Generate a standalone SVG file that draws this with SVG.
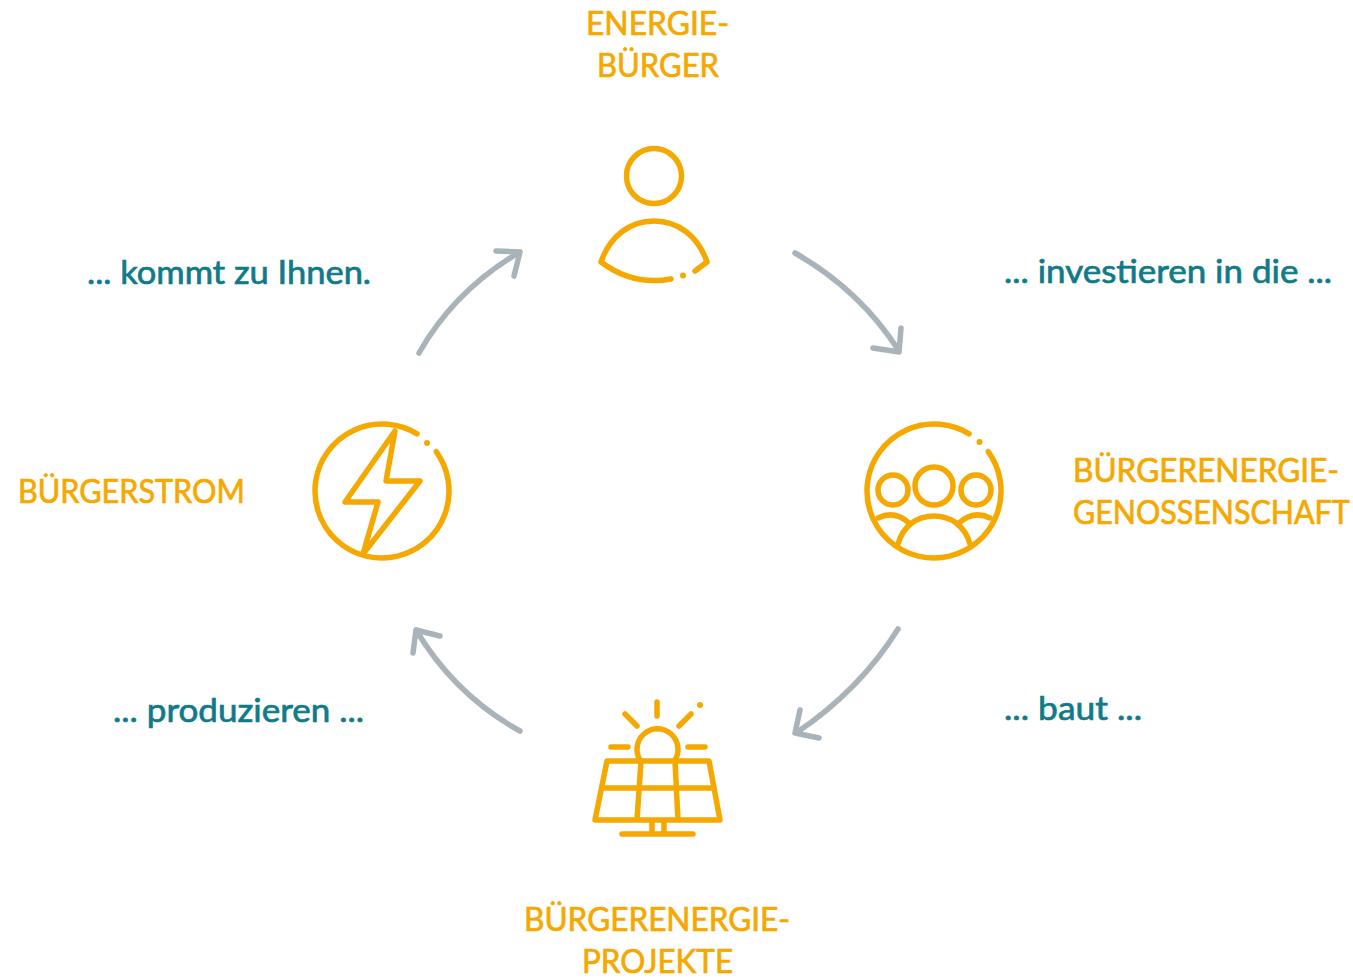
<svg xmlns="http://www.w3.org/2000/svg" width="1353" height="978" viewBox="0 0 1353 978">
<style>
.i{fill:none;stroke:#F5A800;stroke-width:5.5;stroke-linecap:round;stroke-linejoin:round}
.d{fill:#F5A800}
.a{fill:none;stroke:#A8B3BA;stroke-width:5.5;stroke-linecap:round;stroke-linejoin:round}
.o{font-family:"Lato","Liberation Sans",sans-serif;font-size:32.5px;fill:#F5A800;stroke:#F5A800;stroke-width:.7px}
.t{font-family:"Lato","Liberation Sans",sans-serif;font-size:33px;fill:#0F7A88;stroke:#0F7A88;stroke-width:.7px}
</style>
<rect width="1353" height="978" fill="#fff"/>
<g id="connectors">
<path class="a" d="M795 253Q860 290 899 351M873 348L899 352L901 328"/>
<path class="a" d="M898 629Q860 690 796 733M819 738L795 733L800 710"/>
<path class="a" d="M520 731Q455 695 416 630M413 653L416 630L440 636"/>
<path class="a" d="M419 353Q455 290 520 252M496 251L520 252L514 276"/>
</g>
<g id="energieburger">
<circle class="i" cx="654" cy="176" r="27.500"/>
<path class="i" d="M671 279Q633 286 601 262C610 236 630 221 654 221C678 221 698 236 707 262L695 271"/>
<circle class="d" cx="683" cy="275.500" r="3"/>
<text class="o" x="586" y="35" textLength="143" lengthAdjust="spacingAndGlyphs">ENERGIE-</text>
<text class="o" x="597" y="77" textLength="122" lengthAdjust="spacingAndGlyphs">BÜRGER</text>
</g>
<g id="genossenschaft">
<path class="i" d="M969.050 433.900A67 67 0 1 0 988.200 451.600"/>
<circle class="d" cx="979.500" cy="442" r="3"/>
<circle class="i" cx="934" cy="486" r="19"/>
<circle class="i" cx="893" cy="490" r="15"/>
<circle class="i" cx="976" cy="490" r="15"/>
<path class="i" d="M898 544C903 526 917 516 934 516C951 516 965 526 970 544"/>
<path class="i" d="M878 518C888 513 899 514 909 523M959 523C969 514 980 513 990 518"/>
<text class="o" x="1073" y="482" textLength="266" lengthAdjust="spacingAndGlyphs">BÜRGERENERGIE-</text>
<text class="o" transform="translate(1073 524) scale(.935 1)">GENOSSENSCHAFT</text>
</g>
<g id="projekte">
<path class="i" d="M657 702V716M625 714L637 726M691 714L679 726M611 747H628M688 747H705"/>
<circle class="d" cx="700" cy="705" r="3"/>
<path class="i" d="M640 760A20.500 20.500 0 1 1 675 760"/>
<path class="i" d="M607 761H709L720 820H595ZM602 788H714M641 761L637 820M675 761L678 820M652 821V833M664 821V833M622 834H693"/>
<text class="o" x="524" y="931" textLength="266" lengthAdjust="spacingAndGlyphs">BÜRGERENERGIE-</text>
<text class="o" x="582" y="973" textLength="151" lengthAdjust="spacingAndGlyphs">PROJEKTE</text>
</g>
<g id="buergerstrom">
<path class="i" d="M417.050 433.900A67 67 0 1 0 436.200 451.600"/>
<circle class="d" cx="427" cy="443" r="3"/>
<path class="i" d="M395 431L386 481H420L363 554L378 502H345Z"/>
<text class="o" x="18" y="503" textLength="227" lengthAdjust="spacingAndGlyphs">BÜRGERSTROM</text>
</g>
<g id="labels">
<text class="t" x="87" y="284" textLength="284" lengthAdjust="spacingAndGlyphs">... kommt zu Ihnen.</text>
<text class="t" x="1004" y="283" textLength="328" lengthAdjust="spacingAndGlyphs">... investieren in die ...</text>
<text class="t" x="1004" y="720" textLength="138" lengthAdjust="spacingAndGlyphs">... baut ...</text>
<text class="t" x="113" y="722" textLength="251" lengthAdjust="spacingAndGlyphs">... produzieren ...</text>
</g>
</svg>
